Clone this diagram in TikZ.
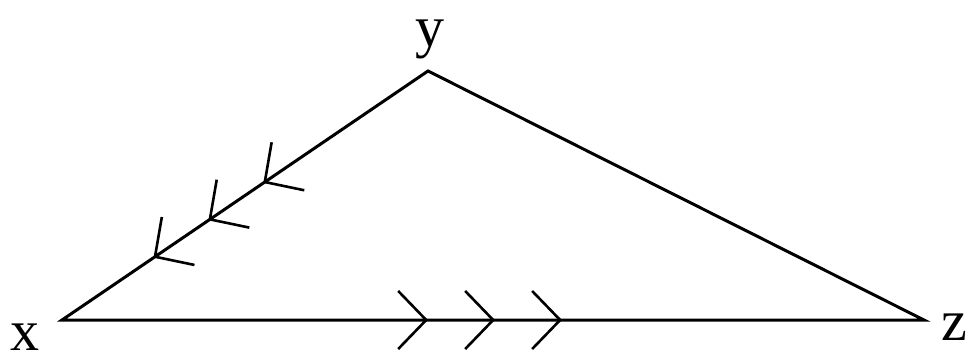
\documentclass[tikz,border=0pt]{standalone}
\usepackage{fontspec}
\setmainfont{Liberation Serif}
\usepackage{tikz}
\usetikzlibrary{arrows.meta,decorations.markings}
\tikzset{
  edge/.style={line width=1.5pt,line join=miter},
  lbl/.style={anchor=base,inner sep=0pt,font=\fontsize{29}{31}\selectfont},
  chev/.tip={Straight Barb[length=14pt,width=29pt,line width=1.3pt]},
  threemarks/.style n args={3}{postaction={decorate},decoration={markings,
      mark=at position #1 with {\arrow{chev}},
      mark=at position #2 with {\arrow{chev}},
      mark=at position #3 with {\arrow{chev}}}},
}

\begin{document}
\begin{tikzpicture}[x=0.5pt,y=-0.5pt]
  \useasboundingbox (0,0) rectangle (969,360);
  \coordinate (vx) at (62,320);
  \coordinate (vy) at (428,71);
  \coordinate (vz) at (924,320);
  \node[lbl] (lx) at (25,350) {x};
  \node[lbl] (ly) at (430,46) {y};
  \node[lbl] (lz) at (954,340) {z};
  \draw[edge] (vx) -- (vy) -- (vz) -- cycle;
  \path (vy) edge[draw=none,threemarks={0.45}{0.6}{0.75}] (vx);
  \path (vx) edge[draw=none,threemarks={0.4246}{0.5023}{0.58}] (vz);
\end{tikzpicture}
\end{document}
